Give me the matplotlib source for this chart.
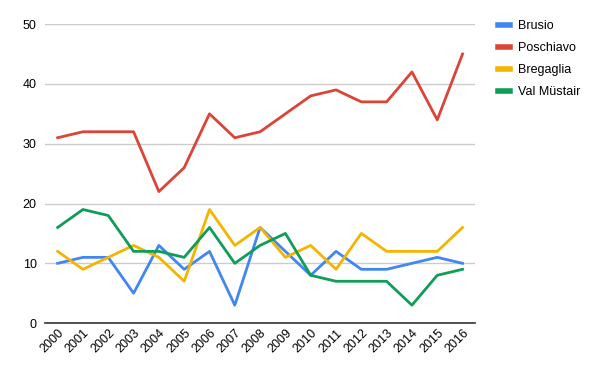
import matplotlib
matplotlib.use('Agg')
import matplotlib.pyplot as plt

years = list(range(2000, 2017))
brusio = [10, 11, 11, 5, 13, 9, 12, 3, 16, 12, 8, 12, 9, 9, 10, 11, 10]
poschiavo = [31, 32, 32, 32, 22, 26, 35, 31, 32, 35, 38, 39, 37, 37, 42, 34, 45]
bregaglia = [12, 9, 11, 13, 11, 7, 19, 13, 16, 11, 13, 9, 15, 12, 12, 12, 16]
val_mustair = [16, 19, 18, 12, 12, 11, 16, 10, 13, 15, 8, 7, 7, 7, 3, 8, 9]

series = [
    ('Brusio', brusio, '#4285F4'),
    ('Poschiavo', poschiavo, '#DB4437'),
    ('Bregaglia', bregaglia, '#F4B400'),
    ('Val Müstair', val_mustair, '#0F9D58'),
]

plt.rcParams['font.family'] = ['Liberation Sans', 'DejaVu Sans']

fig = plt.figure(figsize=(6, 3.71), dpi=100)
ax = fig.add_axes([0.075, 0.129, 0.717, 0.806])

for name, values, color in series:
    ax.plot(years, values, color=color, linewidth=2, label=name)

ax.set_xlim(1999.5, 2016.5)
ax.set_ylim(0, 50)
ax.set_yticks(range(0, 51, 10))
ax.set_xticks(years)
ax.set_xticklabels([str(y) for y in years], rotation=45, ha='right',
                   rotation_mode='anchor', fontsize=9)
ax.tick_params(axis='y', labelsize=9, length=0, pad=6)
ax.tick_params(axis='x', length=0, pad=3)
ax.grid(axis='y', color='#cccccc', linewidth=1)
ax.set_axisbelow(True)
for s in ['top', 'right', 'left']:
    ax.spines[s].set_visible(False)
ax.spines['bottom'].set_color('#333333')
ax.spines['bottom'].set_linewidth(1.2)
ax.spines['bottom'].set_zorder(3)

leg = fig.legend(loc='upper left', bbox_to_anchor=(0.83, 0.945), frameon=False,
                 fontsize=9, handlelength=0.96, handletextpad=0.64,
                 labelspacing=0.8, borderpad=0, borderaxespad=0)
for line in leg.get_lines():
    line.set_linewidth(4)

fig.savefig('out.png', dpi=100)
